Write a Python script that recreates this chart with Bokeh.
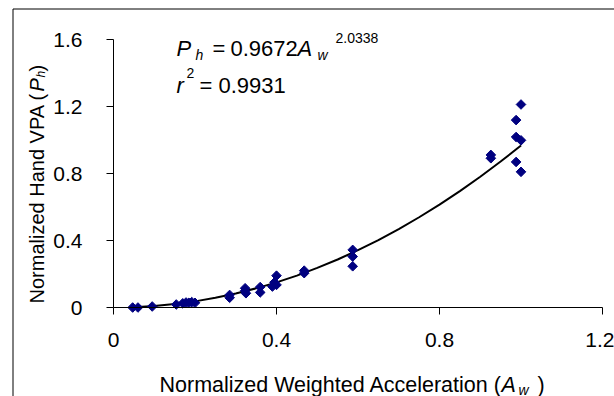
from bokeh.plotting import figure
from bokeh.models import (Range1d, FixedTicker, NumeralTickFormatter, Label,
                          ColumnDataSource, LinearAxis)
from bokeh.embed import file_html
from bokeh.resources import INLINE
import math

# ---- data ----
acc = [0.047, 0.060, 0.095, 0.154, 0.170, 0.178, 0.185, 0.192, 0.200,
       0.285, 0.285, 0.323, 0.323, 0.325, 0.360, 0.360, 0.390, 0.395,
       0.400, 0.400, 0.468, 0.468, 0.587, 0.587, 0.587, 0.926, 0.926,
       0.988, 0.988, 0.988, 1.000, 1.000, 1.000]
vpa = [0.000, 0.000, 0.006, 0.018, 0.025, 0.030, 0.028, 0.032, 0.028,
       0.075, 0.058, 0.115, 0.100, 0.085, 0.122, 0.090, 0.125, 0.150,
       0.190, 0.135, 0.220, 0.205, 0.344, 0.304, 0.246, 0.911, 0.891,
       1.119, 1.018, 0.869, 1.212, 0.998, 0.810]

# trend line (power fit shown on the chart), sampled points
trend_x = [0.05, 0.10, 0.15, 0.20, 0.25, 0.30, 0.35, 0.40, 0.45, 0.50,
           0.55, 0.60, 0.65, 0.70, 0.75, 0.80, 0.85, 0.90, 0.95, 1.00]
trend_y = [0.0022, 0.0090, 0.0204, 0.0366, 0.0577, 0.0836, 0.1144, 0.1500,
           0.1906, 0.2362, 0.2867, 0.3422, 0.4027, 0.4683, 0.5388, 0.6144,
           0.6950, 0.7806, 0.8714, 0.9672]

x_ticks = [0, 0.4, 0.8, 1.2]
y_ticks = [0, 0.4, 0.8, 1.2, 1.6]

FONT = "Liberation Sans"

# layout: the frame fills the whole canvas; the data area
# (0..1.2, 0..1.6) sits at page pixels x 113..602, y 307..39
OFF = 0
X0, KX = 113.0, 489.0 / 1.2
Y0, KY = 307.0, 268.0 / 1.6
W, H = 614, 396


def dx(px):
    return (px - X0) / KX


def dy(py):
    return (Y0 - py) / KY


p = figure(width=W, height=H, output_backend="svg", toolbar_location=None,
           x_range=Range1d(dx(OFF), dx(OFF + W)),
           y_range=Range1d(dy(OFF + H), dy(OFF)),
           x_axis_location=None, y_axis_location=None,
           min_border_left=0, min_border_right=0,
           min_border_top=0, min_border_bottom=0)
p.outline_line_color = None
p.grid.visible = False
p.background_fill_color = "white"
p.border_fill_color = "white"

xaxis = LinearAxis(fixed_location=0, bounds=(0, 1.2))
yaxis = LinearAxis(fixed_location=0, bounds=(0, 1.6))
for ax, ticks in ((xaxis, x_ticks), (yaxis, y_ticks)):
    ax.ticker = FixedTicker(ticks=ticks)
    ax.formatter = NumeralTickFormatter(format="0.[0]")
    ax.major_tick_out = 7
    ax.major_tick_in = 0
    ax.minor_tick_line_color = None
    ax.axis_line_color = "black"
    ax.major_tick_line_color = "black"
    ax.major_label_text_font = FONT
    ax.major_label_text_font_size = "21px"
    ax.major_label_text_color = "black"
xaxis.major_label_standoff = 18
yaxis.major_label_standoff = 24
p.add_layout(xaxis, "below")
p.add_layout(yaxis, "left")

# outer chart border (left and top edges visible)
p.line([dx(12.5), dx(12.5), dx(700)], [dy(500), dy(8.5), dy(8.5)],
       line_color="black", line_width=1)

src = ColumnDataSource(dict(x=acc, y=vpa))
p.line(trend_x, trend_y, line_color="black", line_width=2)
p.scatter("x", "y", source=src, marker="square", angle=math.pi / 4,
          size=6.8, fill_color="#000080", line_color="#000080")


def lab(text, px, py, size, italic=False, angle=0.0):
    p.add_layout(Label(x=dx(px), y=dy(py), text=text, angle=angle,
                       text_font=FONT, text_font_size=f"{size}px",
                       text_font_style="italic" if italic else "normal",
                       text_color="black", text_align="left",
                       text_baseline="alphabetic"))


# equation
lab("P", 176, 47.5, 22, True)
lab("h", 195, 54, 14, True)
lab("=", 212, 47.5, 22)
lab("0.9672", 230, 47.5, 22)
lab("A", 297, 47.5, 22, True)
lab("w", 317, 54, 14, True)
lab("2.0338", 335, 37.5, 14)
lab("r", 176, 85, 22, True)
lab("2", 186, 72.5, 14)
lab("=", 199, 85, 22)
lab("0.9931", 218, 85, 22)

# x axis title
lab("Normalized Weighted Acceleration (", 159, 384, 21.5)
lab("A", 501, 384, 21.5, True)
lab("w", 518, 389, 14, True)
lab(")", 537, 384, 21.5)

# y axis title (rotated)
ang = math.pi / 2
lab("Normalized Hand VPA (", 36, 303, 20, angle=ang)
lab("P", 36, 91, 20, True, angle=ang)
lab("h", 40, 77, 12, True, angle=ang)
lab(")", 36, 71, 20, angle=ang)

open("out.html", "w").write(file_html(p, INLINE))
